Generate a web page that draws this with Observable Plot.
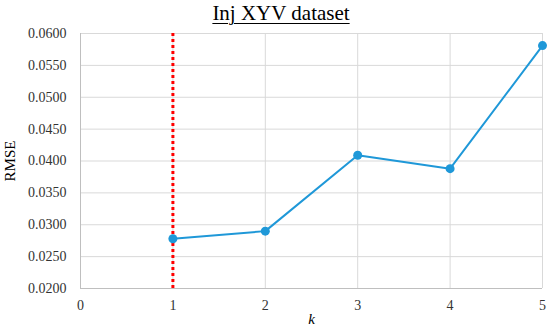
<!DOCTYPE html>
<html><head><meta charset="utf-8">
<script src="https://cdn.jsdelivr.net/npm/d3@7"></script>
<script src="https://cdn.jsdelivr.net/npm/@observablehq/plot@0.6"></script>
<style>
body{margin:0;background:#fff;width:550px;height:328px;overflow:hidden;font-family:"Liberation Serif","Times New Roman",serif;}
#title{height:26px;line-height:26px;text-align:center;font-size:21px;color:#000;padding-left:12px;}
#title span{text-decoration:underline;text-decoration-thickness:1px;text-underline-offset:3px;}
</style></head>
<body>
<div id="title"><span>Inj XYV dataset</span></div>
<div id="chart"></div>
<script>
const k = [1, 2, 3, 4, 5];
const rmse = [0.0278, 0.0290, 0.0409, 0.0388, 0.0581];
const xTicks = [0, 1, 2, 3, 4, 5];
const yTicks = [0.02, 0.025, 0.03, 0.035, 0.04, 0.045, 0.05, 0.055, 0.06];
const selectedK = [1];
const data = k.map((v, i) => ({k: v, rmse: rmse[i]}));

const plot = Plot.plot({
  width: 550, height: 302,
  marginTop: 7, marginBottom: 40, marginLeft: 80, marginRight: 8,
  style: {fontFamily: '"Liberation Serif","Times New Roman",serif', fontSize: "14px", color: "#333"},
  x: {domain: [0, 5], ticks: xTicks, tickSize: 0, tickPadding: 12, label: "k", labelArrow: "none", labelAnchor: "center", labelOffset: 35, tickFormat: d => String(d)},
  y: {domain: [0.02, 0.06], ticks: yTicks, tickSize: 0, tickPadding: 14, label: "RMSE", labelArrow: "none", labelAnchor: "center", labelOffset: 76, tickFormat: d => d.toFixed(4)},
  marks: [
    Plot.gridY(yTicks, {stroke: "#d9d9d9", strokeOpacity: 1, strokeWidth: 1}),
    Plot.gridX(xTicks.slice(1), {stroke: "#d9d9d9", strokeOpacity: 1, strokeWidth: 1}),
    Plot.ruleX([0], {stroke: "#bfbfbf", strokeWidth: 1}),
    Plot.ruleY([0.02], {stroke: "#bfbfbf", strokeWidth: 1}),
    Plot.ruleX(selectedK, {stroke: "#ff0000", strokeWidth: 3, strokeDasharray: "3,3"}),
    Plot.line(data, {x: "k", y: "rmse", stroke: "#1f98d8", strokeWidth: 2}),
    Plot.dot(data, {x: "k", y: "rmse", r: 4.5, fill: "#1f98d8", stroke: "none"})
  ]
});
document.getElementById("chart").appendChild(plot);
const sel = d3.select(plot);
sel.selectAll('[aria-label="x-axis label"] text').text("k").style("font-style", "italic").style("font-size", "15px").attr("fill", "#000");
sel.selectAll('[aria-label="y-axis label"] text').text("RMSE").style("font-size", "15px").attr("fill", "#000");
</script>
</body></html>
